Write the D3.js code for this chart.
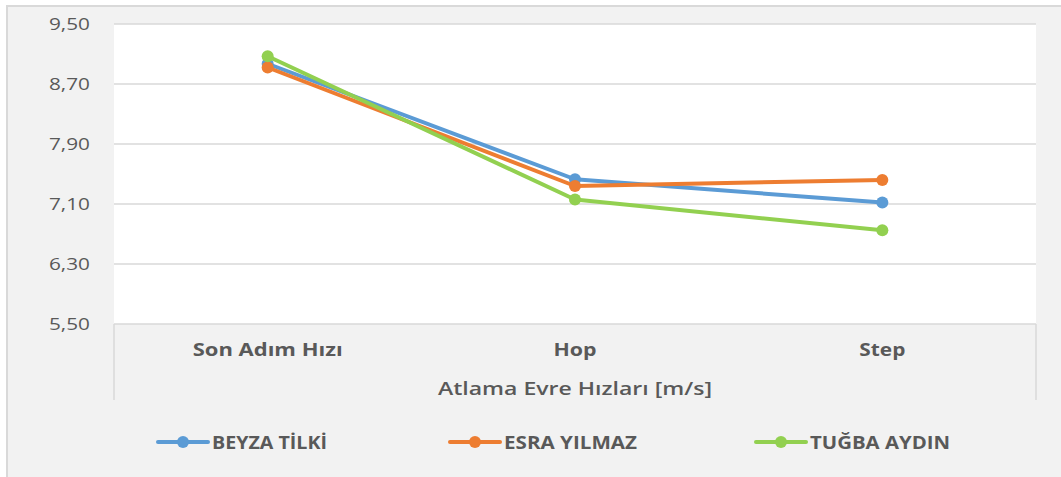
<!DOCTYPE html>
<html>
<head>
<meta charset="utf-8">
<script src="https://cdn.jsdelivr.net/npm/d3@7"></script>
<style>
  body { margin: 0; background: #ffffff; }
  svg text { font-family: "Open Sans", "Noto Sans", sans-serif; fill: #595959; }
</style>
</head>
<body>
<div id="chart"></div>
<script>
// Datos del gráfico
const categories = ["Son Adım Hızı", "Hop", "Step"];
const seriesNames = ["BEYZA TİLKİ", "ESRA YILMAZ", "TUĞBA AYDIN"];
const beyza = [8.97, 7.43, 7.12];
const esra = [8.92, 7.34, 7.42];
const tugba = [9.07, 7.16, 6.75];
const yTicks = [5.5, 6.3, 7.1, 7.9, 8.7, 9.5];
const colors = ["#5B9BD5", "#ED7D31", "#92D050"];
const xTitle = "Atlama Evre Hızları [m/s]";

const series = [beyza, esra, tugba];

// Anchos de texto medidos en la imagen (el texto original es más ancho)
const catWidths = [150, 43, 46];
const legendWidths = [115, 133, 140];

const W = 1061, H = 477;
const plot = {left: 114, right: 1036, top: 24, bottom: 324};

const svg = d3.select("#chart")
    .append("svg")
    .attr("width", W)
    .attr("height", H);

// Marco exterior
svg.append("rect")
    .attr("x", 7).attr("y", 6)
    .attr("width", 1070).attr("height", 490)
    .attr("fill", "#f2f2f2")
    .attr("stroke", "#d9d9d9")
    .attr("stroke-width", 2);

// Área blanca del gráfico
svg.append("rect")
    .attr("x", plot.left).attr("y", plot.top)
    .attr("width", plot.right - plot.left)
    .attr("height", plot.bottom - plot.top)
    .attr("fill", "#ffffff");

// Escalas
const x = d3.scaleBand()
    .domain(categories)
    .range([plot.left, plot.right]);

const y = d3.scaleLinear()
    .domain([5.5, 9.5])
    .range([plot.bottom, plot.top]);

// Líneas de la cuadrícula
svg.append("g")
    .selectAll("line")
    .data(yTicks)
    .join("line")
    .attr("x1", plot.left)
    .attr("x2", plot.right)
    .attr("y1", d => y(d))
    .attr("y2", d => y(d))
    .attr("stroke", "#d9d9d9")
    .attr("stroke-width", 1.5);

// Bordes verticales del eje de categorías
svg.append("g")
    .selectAll("line")
    .data([plot.left, plot.right])
    .join("line")
    .attr("x1", d => d).attr("x2", d => d)
    .attr("y1", plot.bottom).attr("y2", 400)
    .attr("stroke", "#d9d9d9")
    .attr("stroke-width", 1.5);

// Eje Y
const yAxis = svg.append("g")
    .attr("transform", `translate(${plot.left},0)`)
    .call(d3.axisLeft(y).tickValues(yTicks).tickSize(0).tickPadding(24)
        .tickFormat(d => d3.format(".2f")(d).replace(".", ",")));
yAxis.select(".domain").remove();
yAxis.selectAll("text")
    .attr("fill", "#595959")
    .attr("textLength", 41)
    .attr("lengthAdjust", "spacingAndGlyphs")
    .style("font-size", "17px");

// Eje X
const xAxis = svg.append("g")
    .attr("transform", `translate(0,${plot.bottom})`)
    .call(d3.axisBottom(x).tickSize(0).tickPadding(19));
xAxis.select(".domain").remove();
xAxis.selectAll("text")
    .attr("fill", "#595959")
    .attr("textLength", (d, i) => catWidths[i])
    .attr("lengthAdjust", "spacingAndGlyphs")
    .style("font-size", "18px")
    .style("font-weight", "bold");

// Título del eje X
svg.append("text")
    .attr("x", (plot.left + plot.right) / 2)
    .attr("y", 395)
    .attr("text-anchor", "middle")
    .attr("textLength", 274)
    .attr("lengthAdjust", "spacingAndGlyphs")
    .style("font-size", "18px")
    .style("font-weight", "600")
    .text(xTitle);

// Líneas de las series
const line = d3.line()
    .x((d, i) => x(categories[i]) + x.bandwidth() / 2)
    .y(d => y(d));

series.forEach((s, k) => {
    svg.append("path")
        .datum(s)
        .attr("fill", "none")
        .attr("stroke", colors[k])
        .attr("stroke-width", 4)
        .attr("stroke-linejoin", "round")
        .attr("d", line);
    svg.append("g")
        .selectAll("circle")
        .data(s)
        .join("circle")
        .attr("cx", (d, i) => x(categories[i]) + x.bandwidth() / 2)
        .attr("cy", d => y(d))
        .attr("r", 6)
        .attr("fill", colors[k]);
});

// Leyenda
const legendX = [158, 450, 756];
const legend = svg.append("g")
    .selectAll("g")
    .data(seriesNames)
    .join("g")
    .attr("transform", (d, i) => `translate(${legendX[i]},442)`);
legend.append("line")
    .attr("x1", 0).attr("x2", 50)
    .attr("stroke", (d, i) => colors[i])
    .attr("stroke-width", 4)
    .attr("stroke-linecap", "round");
legend.append("circle")
    .attr("cx", 25).attr("r", 6)
    .attr("fill", (d, i) => colors[i]);
legend.append("text")
    .attr("x", 54)
    .attr("y", 7)
    .attr("textLength", (d, i) => legendWidths[i])
    .attr("lengthAdjust", "spacingAndGlyphs")
    .style("font-size", "18px")
    .style("font-weight", "bold")
    .text(d => d);
</script>
</body>
</html>
